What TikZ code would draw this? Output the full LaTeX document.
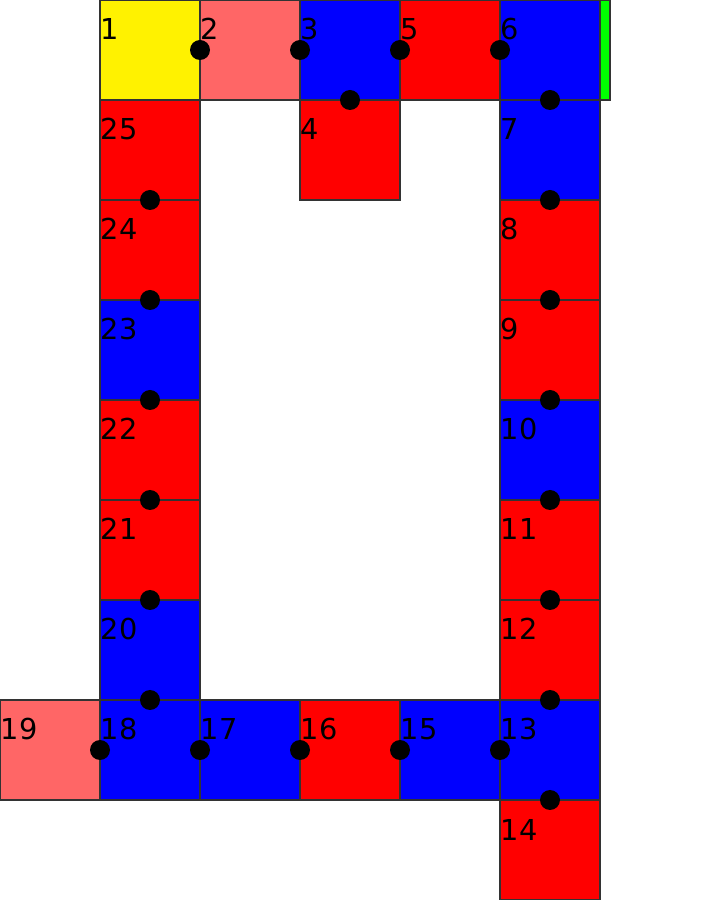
\documentclass[tikz,border=0pt]{standalone}
\usepackage{fontspec}
\setmainfont{DejaVu Sans}
\usetikzlibrary{positioning}

\definecolor{lightred}{RGB}{255,102,102}

\begin{document}
\begin{tikzpicture}[
    node distance=0pt,
    cell/.style={rectangle, draw=black!80, minimum size=1cm, inner sep=0pt, outer sep=0pt},
    num/.style={label={[lbl]north west:#1}},
    lbl/.style={anchor=base west, inner sep=0pt, yshift=-0.40cm, font=\fontsize{8.2pt}{10pt}\selectfont},
    dot/.style={circle, fill=black, minimum size=0.2cm, inner sep=0pt}
]
\useasboundingbox (0,0) rectangle (7,9);
% top row
\node[cell, fill=yellow, num=1] (c1) at (1.5,8.5) {};
\node[cell, fill=lightred, num=2, right=of c1] (c2) {};
\node[cell, fill=blue, num=3, right=of c2] (c3) {};
\node[cell, fill=red, num=5, right=of c3] (c5) {};
\node[cell, fill=blue, num=6, right=of c5] (c6) {};
\node[cell, fill=red, num=4, below=of c3] (c4) {};
\node[rectangle, draw=black!80, fill=green, minimum width=0.1cm, minimum height=1cm, inner sep=0pt, outer sep=0pt, right=of c6] (bar) {};
% right column
\node[cell, fill=blue, num=7, below=of c6] (c7) {};
\node[cell, fill=red, num=8, below=of c7] (c8) {};
\node[cell, fill=red, num=9, below=of c8] (c9) {};
\node[cell, fill=blue, num=10, below=of c9] (c10) {};
\node[cell, fill=red, num=11, below=of c10] (c11) {};
\node[cell, fill=red, num=12, below=of c11] (c12) {};
\node[cell, fill=blue, num=13, below=of c12] (c13) {};
\node[cell, fill=red, num=14, below=of c13] (c14) {};
% bottom row
\node[cell, fill=blue, num=15, left=of c13] (c15) {};
\node[cell, fill=red, num=16, left=of c15] (c16) {};
\node[cell, fill=blue, num=17, left=of c16] (c17) {};
\node[cell, fill=blue, num=18, left=of c17] (c18) {};
\node[cell, fill=lightred, num=19, left=of c18] (c19) {};
% left column
\node[cell, fill=blue, num=20, above=of c18] (c20) {};
\node[cell, fill=red, num=21, above=of c20] (c21) {};
\node[cell, fill=red, num=22, above=of c21] (c22) {};
\node[cell, fill=blue, num=23, above=of c22] (c23) {};
\node[cell, fill=red, num=24, above=of c23] (c24) {};
\node[cell, fill=red, num=25, above=of c24] (c25) {};

% joints
\node[dot] (d1) at (c1.east) {};
\node[dot] (d2) at (c2.east) {};
\node[dot] (d3) at (c3.east) {};
\node[dot] (d4) at (c5.east) {};
\node[dot] (d5) at (c3.south) {};
\node[dot] (d6) at (c6.south) {};
\node[dot] (d7) at (c7.south) {};
\node[dot] (d8) at (c8.south) {};
\node[dot] (d9) at (c9.south) {};
\node[dot] (d10) at (c10.south) {};
\node[dot] (d11) at (c11.south) {};
\node[dot] (d12) at (c12.south) {};
\node[dot] (d13) at (c13.south) {};
\node[dot] (d14) at (c13.west) {};
\node[dot] (d15) at (c15.west) {};
\node[dot] (d16) at (c16.west) {};
\node[dot] (d17) at (c17.west) {};
\node[dot] (d18) at (c18.west) {};
\node[dot] (d19) at (c18.north) {};
\node[dot] (d20) at (c20.north) {};
\node[dot] (d21) at (c21.north) {};
\node[dot] (d22) at (c22.north) {};
\node[dot] (d23) at (c23.north) {};
\node[dot] (d24) at (c24.north) {};
\end{tikzpicture}
\end{document}
